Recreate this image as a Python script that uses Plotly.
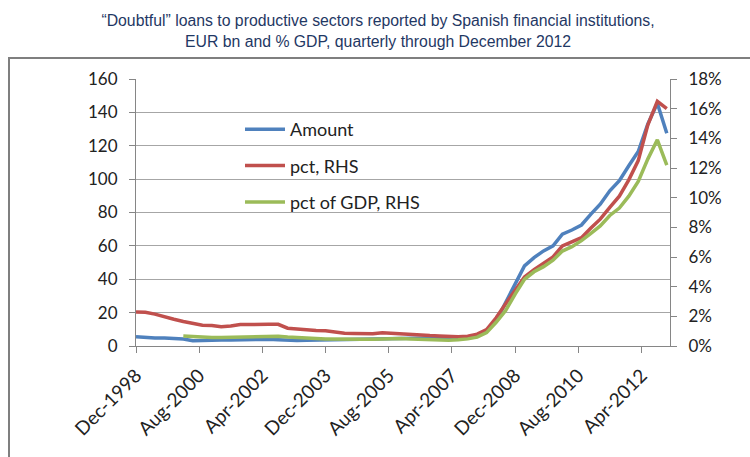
import plotly.graph_objects as go

# Quarterly observation dates (Dec-1998 .. Dec-2012)
dates = [
    "1998-12-01", "1999-03-01", "1999-06-01", "1999-09-01", "1999-12-01",
    "2000-03-01", "2000-06-01", "2000-09-01", "2000-12-01",
    "2001-03-01", "2001-06-01", "2001-09-01", "2001-12-01",
    "2002-03-01", "2002-06-01", "2002-09-01", "2002-12-01",
    "2003-03-01", "2003-06-01", "2003-09-01", "2003-12-01",
    "2004-03-01", "2004-06-01", "2004-09-01", "2004-12-01",
    "2005-03-01", "2005-06-01", "2005-09-01", "2005-12-01",
    "2006-03-01", "2006-06-01", "2006-09-01", "2006-12-01",
    "2007-03-01", "2007-06-01", "2007-09-01", "2007-12-01",
    "2008-03-01", "2008-06-01", "2008-09-01", "2008-12-01",
    "2009-03-01", "2009-06-01", "2009-09-01", "2009-12-01",
    "2010-03-01", "2010-06-01", "2010-09-01", "2010-12-01",
    "2011-03-01", "2011-06-01", "2011-09-01", "2011-12-01",
    "2012-03-01", "2012-06-01", "2012-09-01", "2012-12-01",
]

# Amount, EUR bn (left axis)
amount = [
    5.6, 5.0, 4.8, 4.8, 4.6,
    4.2, 3.2, 3.5, 3.6,
    3.6, 3.6, 3.8, 4.0,
    4.1, 4.0, 3.8, 3.4,
    3.3, 3.4, 3.5, 3.6,
    3.8, 3.8, 3.8, 3.9,
    4.0, 4.2, 4.3, 4.4,
    4.4, 4.5, 4.5, 4.6,
    4.6, 4.8, 5.2, 6.2,
    9.0, 15.0, 26.0, 37.0,
    48.0, 53.0, 57.0, 60.0,
    67.0, 69.5, 72.5, 79.0,
    85.0, 93.0, 99.0, 108.0,
    116.5, 133.0, 145.5, 127.5,
]

# pct, RHS (%)
pct = [
    2.30, 2.28, 2.15, 1.95, 1.80,
    1.65, 1.50, 1.40, 1.38,
    1.30, 1.35, 1.45, 1.45,
    1.48, 1.46, 1.46, 1.20,
    1.15, 1.08, 1.05, 1.03,
    0.95, 0.86, 0.85, 0.85,
    0.82, 0.90, 0.85, 0.79,
    0.78, 0.75, 0.70, 0.68,
    0.64, 0.63, 0.66, 0.80,
    1.10, 1.90, 2.85, 3.75,
    4.65, 5.15, 5.60, 6.00,
    6.75, 7.00, 7.30, 7.95,
    8.55, 9.35, 10.1, 11.2,
    12.5, 14.9, 16.5, 16.0,
]

# pct of GDP, RHS (%)
pct_gdp = [
    None, None, None, None, None,
    0.67, 0.62, 0.60, 0.58,
    0.58, 0.60, 0.62, 0.64,
    0.66, 0.67, 0.65, 0.60,
    0.55, 0.52, 0.50, 0.48,
    0.46, 0.45, 0.45, 0.45,
    0.46, 0.48, 0.50, 0.50,
    0.48, 0.45, 0.42, 0.40,
    0.38, 0.42, 0.48, 0.60,
    0.90, 1.60, 2.40, 3.50,
    4.50, 5.00, 5.35, 5.78,
    6.40, 6.70, 7.10, 7.60,
    8.10, 8.80, 9.30, 10.1,
    11.1, 12.6, 13.9, 12.2,
]

x_tick_vals = ["1998-12-01", "2000-08-01", "2002-04-01", "2003-12-01", "2005-08-01",
               "2007-04-01", "2008-12-01", "2010-08-01", "2012-04-01"]
x_tick_text = ["Dec-1998", "Aug-2000", "Apr-2002", "Dec-2003", "Aug-2005",
               "Apr-2007", "Dec-2008", "Aug-2010", "Apr-2012"]
left_ticks = [0, 20, 40, 60, 80, 100, 120, 140, 160]
right_ticks = [0, 2, 4, 6, 8, 10, 12, 14, 16, 18]
right_tick_text = [f"{v}%" for v in right_ticks]

title_text = ("\u201cDoubtful\u201d loans to productive sectors reported by Spanish financial institutions,"
              "<br>EUR bn and % GDP, quarterly through December 2012")

BLUE = "#4F81BD"
RED = "#C0504D"
GREEN = "#9BBB59"
AX = "#868686"
FONT = "Lato"

fig = go.Figure()
fig.add_trace(go.Scatter(x=dates, y=amount, name="Amount", mode="lines",
                         line=dict(color=BLUE, width=3.5), legendgroup="a"))
fig.add_trace(go.Scatter(x=dates, y=pct, name="pct, RHS", mode="lines", yaxis="y2",
                         line=dict(color=RED, width=3.5), legendgroup="b"))
fig.add_trace(go.Scatter(x=dates, y=pct_gdp, name="pct of GDP, RHS", mode="lines", yaxis="y2",
                         line=dict(color=GREEN, width=3.5), legendgroup="c"))

L, R, T, B = 136, 80, 79, 111
W, H = 750, 457
pw, ph = W - L - R, H - T - B

def px_x(px):
    return (px - L) / pw

def px_y(py):
    return (H - B - py) / ph

fig.update_layout(
    width=W, height=H,
    margin=dict(l=L, r=R, t=T, b=B, pad=0),
    paper_bgcolor="white", plot_bgcolor="white",
    title=dict(text=title_text, x=378 / W, xanchor="center", xref="container",
               y=1 - 26 / H, yanchor="top", yref="container",
               font=dict(family="Liberation Sans", size=15.8, color="#1F3864")),
    showlegend=True,
    legend=dict(x=px_x(240), y=px_y(111), xanchor="left", yanchor="top",
                bgcolor="rgba(0,0,0,0)", font=dict(family=FONT, size=18, color="#222222"),
                traceorder="grouped", tracegroupgap=10, itemwidth=40),
    xaxis=dict(type="date", range=["1998-12-01", "2013-01-01"],
               tickmode="array", tickvals=x_tick_vals, ticktext=x_tick_text,
               tickangle=-45, ticks="outside", ticklen=6, tickcolor=AX,
               showline=True, linecolor=AX, linewidth=1, showgrid=False, zeroline=False,
               ticklabelstandoff=4,
               tickfont=dict(family=FONT, size=19, color="#222222")),
    yaxis=dict(range=[0, 160], tickmode="array", tickvals=left_ticks,
               ticks="outside", ticklen=6, tickcolor=AX,
               showline=True, linecolor=AX, linewidth=1,
               showgrid=True, gridcolor="#A6A6A6", gridwidth=1, zeroline=False,
               ticklabelstandoff=8,
               tickfont=dict(family=FONT, size=17, color="#222222")),
    yaxis2=dict(range=[0, 18], overlaying="y", side="right", tickmode="array",
                tickvals=right_ticks, ticktext=right_tick_text,
                ticks="outside", ticklen=6, tickcolor=AX,
                showline=True, linecolor=AX, linewidth=1, showgrid=False, zeroline=False,
                ticklabelstandoff=8,
                tickfont=dict(family=FONT, size=17, color="#222222")),
    shapes=[
        dict(type="line", xref="paper", yref="paper", x0=px_x(9), x1=px_x(9),
             y0=px_y(457), y1=px_y(58), line=dict(color="#7F7F7F", width=2)),
        dict(type="line", xref="paper", yref="paper", x0=px_x(8), x1=px_x(750),
             y0=px_y(58), y1=px_y(58), line=dict(color="#7F7F7F", width=2)),
    ],
)

fig.write_html("out.html")
